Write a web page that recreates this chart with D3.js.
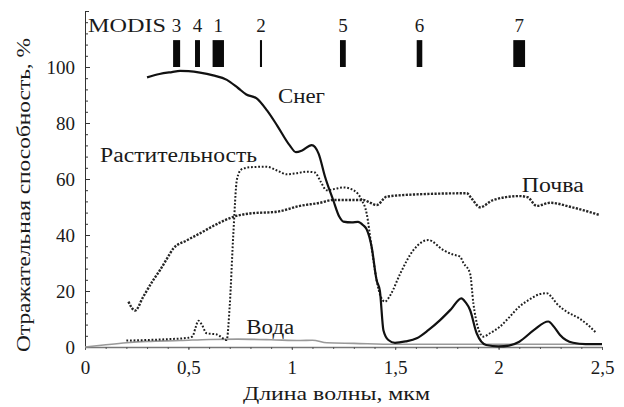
<!DOCTYPE html>
<html><head><meta charset="utf-8">
<script src="https://cdn.jsdelivr.net/npm/d3@7"></script>
<style>
html,body{margin:0;padding:0;background:#fff;}
svg{display:block;}
svg text{font-family:"Liberation Serif","Times New Roman","DejaVu Serif",serif !important;fill:#1a1a1a;}
</style></head>
<body>
<svg id="chart" width="624" height="407"></svg>
<script>
// ---- Data (wavelength µm, reflectance %) ----
const snowX = [0.30,0.36,0.42,0.46,0.50,0.556,0.62,0.686,0.74,0.78,0.83,0.88,0.93,0.99,1.02,1.05,1.096,1.13,1.16,1.20,1.23,1.249,1.29,1.32,1.345,1.362,1.386,1.41,1.426,1.443,1.467,1.499,1.55,1.604,1.66,1.717,1.77,1.82,1.84,1.862,1.894,1.94,2.0,2.05,2.10,2.17,2.24,2.27,2.297,2.36,2.42,2.5];
const snowY = [96.3,97.5,98.2,98.6,98.5,98,97,95.4,92.5,90.2,88.8,84.5,79,72,69.6,70.2,72.1,69,61,52.5,46.5,44.8,44.5,44.7,43.5,42,35.8,23.9,20,6,2.5,1.5,2,3.1,6,9.6,13.5,17.4,16,13.2,4.9,0.7,0.2,0.5,1.9,6,9.1,7,4.3,1.5,1,1];

const vegX = [0.20,0.30,0.40,0.50,0.52,0.535,0.548,0.565,0.588,0.637,0.685,0.70,0.717,0.735,0.758,0.80,0.878,0.93,0.975,1.02,1.072,1.112,1.14,1.168,1.21,1.249,1.298,1.338,1.362,1.385,1.41,1.43,1.45,1.48,1.523,1.588,1.66,1.733,1.78,1.813,1.83,1.862,1.878,1.90,1.926,1.96,2.007,2.05,2.10,2.15,2.20,2.233,2.26,2.28,2.33,2.39,2.43,2.474];
const vegY = [2.3,2.5,2.8,3.3,3.8,7,9.4,8,4.9,4.5,2.5,15,40,60,63.5,64.2,64.4,63,61.7,62,62.6,62.3,59,56,56.5,57,56,52.5,47.7,36,23.9,18,16.2,19,26,34.6,38.2,34.6,33,32.3,30,26.3,15.6,7,3.7,5,7.3,10.5,14.4,17,18.9,19.2,17.5,15.6,12.6,10.2,8,4.9];

const soilX = [0.21,0.242,0.282,0.33,0.363,0.40,0.427,0.49,0.556,0.64,0.717,0.798,0.927,1.04,1.136,1.20,1.346,1.38,1.41,1.459,1.604,1.846,1.87,1.91,1.974,2.10,2.14,2.184,2.25,2.35,2.49];
const soilY = [16.2,13,18,23.9,27.5,32,35.2,38,40.6,44,46.5,47.7,48.3,50.4,51.5,52.5,52.5,51.5,50.7,53.7,54.5,54.9,53,49.9,52.5,53.9,53.5,50.4,51.5,50,47.1];

const waterX = [0,0.09,0.2,0.3,0.46,0.6,0.74,0.9,1.04,1.1,1.17,1.3,1.5,2.0,2.5];
const waterY = [0,0.7,1.5,2,2.3,2.7,2.8,2.6,2.3,2.4,1.5,1.3,1,1,1];

// MODIS bands: number, start, end (µm)
const bandNames = ["3","4","1","2","5","6","7"];
const bandStart = [0.426,0.532,0.617,0.846,1.233,1.604,2.071];
const bandEnd   = [0.460,0.556,0.672,0.856,1.261,1.631,2.128];

const xTicks = [0,0.5,1,1.5,2,2.5];
const yTicks = [0,20,40,60,80,100];

// ---- Layout ----
const FONT = '"Liberation Serif","Times New Roman","DejaVu Serif",serif';
const svg = d3.select("#chart");
const x = d3.scaleLinear().domain([0,2.5]).range([85,602]);
const y = d3.scaleLinear().domain([0,120]).range([347,11]);
const fmt = d => String(d).replace(".", ",");

const yMinor = d3.range(0,121,4);
const xMinor = d3.range(0,26).map(i=>i/10);

svg.append("g").attr("transform","translate(85,0)")
  .call(d3.axisLeft(y).tickValues(yMinor).tickSize(-3).tickSizeOuter(-4).tickFormat(""))
  .call(g=>g.selectAll("line,path").attr("stroke","#333"));
svg.append("g").attr("transform","translate(85,0)")
  .call(d3.axisLeft(y).tickValues(yTicks).tickSize(-5).tickSizeOuter(0).tickPadding(10).tickFormat(d=>d))
  .call(g=>g.select(".domain").remove())
  .call(g=>g.selectAll("line").attr("stroke","#333"))
  .call(g=>g.selectAll("text").attr("font-size",19).attr("font-family",FONT).attr("fill","#1a1a1a"));

svg.append("g").attr("transform","translate(0,347)")
  .call(d3.axisBottom(x).tickValues(xMinor).tickSize(2).tickSizeOuter(0).tickFormat(""))
  .call(g=>g.selectAll("line").attr("stroke","#555"))
  .call(g=>g.select(".domain").attr("stroke","#777").attr("stroke-width",1.5));
svg.append("g").attr("transform","translate(0,347)")
  .call(d3.axisBottom(x).tickValues(xTicks).tickSize(3).tickSizeOuter(0).tickPadding(11).tickFormat(fmt))
  .call(g=>g.select(".domain").remove())
  .call(g=>g.selectAll("line").attr("stroke","#555"))
  .call(g=>g.selectAll("text").attr("font-size",19).attr("font-family",FONT).attr("fill","#1a1a1a"));

// axis titles
svg.append("text").attr("x",243).attr("y",400).attr("font-size",18).attr("font-family",FONT)
  .attr("textLength",187).attr("lengthAdjust","spacingAndGlyphs").text("Длина волны, мкм");
svg.append("text").attr("transform","translate(30,352) rotate(-90)").attr("font-size",18).attr("font-family",FONT)
  .attr("textLength",314).attr("lengthAdjust","spacingAndGlyphs").text("Отражательная  способность, %");

// lines
const line = d3.line().x(d=>x(d[0])).y(d=>y(d[1])).curve(d3.curveMonotoneX);
const zip = (a,b)=>a.map((v,i)=>[v,b[i]]);

svg.append("path").datum(zip(waterX,waterY)).attr("d",line)
  .attr("fill","none").attr("stroke","#999").attr("stroke-width",1.6);
svg.append("path").datum(zip(soilX,soilY)).attr("d",line)
  .attr("fill","none").attr("stroke","#262626").attr("stroke-width",2.4).attr("stroke-dasharray","2.2,1.4");
svg.append("path").datum(zip(vegX,vegY)).attr("d",line)
  .attr("fill","none").attr("stroke","#1e1e1e").attr("stroke-width",2).attr("stroke-dasharray","1.8,1.8");
svg.append("path").datum(zip(snowX,snowY)).attr("d",line)
  .attr("fill","none").attr("stroke","#111").attr("stroke-width",2.2);

// MODIS bands
svg.append("text").attr("x",x(0.015)).attr("y",y(112.5)).attr("font-size",18).attr("font-family",FONT)
  .attr("textLength",78).attr("lengthAdjust","spacingAndGlyphs").text("MODIS");
const bands = bandNames.map((n,i)=>({n,s:bandStart[i],e:bandEnd[i]}));
svg.selectAll("rect.band").data(bands).join("rect").attr("class","band")
  .attr("x",d=>x(d.s)).attr("width",d=>Math.max(2,x(d.e)-x(d.s)))
  .attr("y",y(109.6)).attr("height",y(100)-y(109.6)).attr("fill","#0a0a0a");
svg.selectAll("text.bandlbl").data(bands).join("text").attr("class","bandlbl")
  .attr("x",d=>x((d.s+d.e)/2)).attr("y",y(112.5)).attr("text-anchor","middle")
  .attr("font-size",19).attr("font-family",FONT).text(d=>d.n);

// series labels
const labels = [
  {t:"Снег", vx:0.933, vy:87.1, w:47},
  {t:"Растительность", vx:0.073, vy:66.2, w:157},
  {t:"Почва", vx:2.112, vy:55.5, w:62},
  {t:"Вода", vx:0.78, vy:4.6, w:48}
];
svg.selectAll("text.lbl").data(labels).join("text").attr("class","lbl")
  .attr("x",d=>x(d.vx)).attr("y",d=>y(d.vy)).attr("font-size",20).attr("font-family",FONT)
  .attr("textLength",d=>d.w).attr("lengthAdjust","spacingAndGlyphs").text(d=>d.t);
</script>
</body></html>
